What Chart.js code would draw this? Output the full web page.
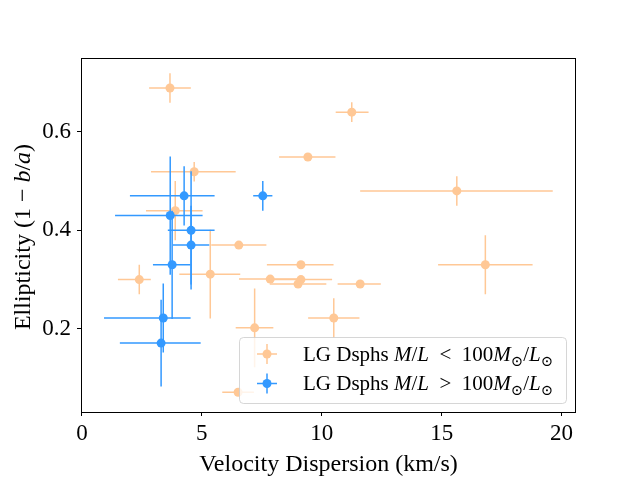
<!DOCTYPE html>
<html>
<head>
<meta charset="utf-8">
<script src="https://cdn.jsdelivr.net/npm/chart.js@4"></script>
<style>
  body { margin: 0; background: #fff; }
  canvas { display: block; }
</style>
</head>
<body>
<canvas id="chart" width="640" height="480"></canvas>
<script>
// data: velocity dispersion (km/s), ellipticity, errors (lower / upper)
const lowX      = [3.67, 11.25, 9.42, 15.63, 4.68, 3.89, 6.54, 5.35, 2.39, 9.13, 7.85, 9.13, 9.01, 11.6, 10.5, 7.2, 6.51, 16.82];
const lowY      = [0.689, 0.64, 0.549, 0.48, 0.519, 0.44, 0.37, 0.311, 0.30, 0.33, 0.301, 0.30, 0.291, 0.291, 0.222, 0.202, 0.071, 0.33];
const lowXErrLo = [0.87, 0.67, 1.2, 4.03, 1.8, 1.22, 1.15, 1.29, 0.89, 1.42, 1.3, 1.3, 1.18, 0.94, 1.07, 0.79, 0.66, 1.97];
const lowXErrHi = [0.87, 0.7, 1.15, 4.0, 1.73, 1.14, 1.15, 1.25, 0.48, 1.36, 1.3, 1.3, 1.18, 0.86, 1.07, 0.78, 0.66, 1.97];
const lowYErr   = [0.03, 0.02, 0.005, 0.03, 0.02, 0.06, 0.005, 0.09, 0.03, 0.005, 0.005, 0.005, 0.005, 0.005, 0.04, 0.08, 0.005, 0.06];

const highX      = [4.26, 7.54, 3.68, 4.55, 4.55, 3.76, 3.39, 3.30];
const highY      = [0.47, 0.47, 0.43, 0.40, 0.37, 0.33, 0.222, 0.171];
const highXErrLo = [2.26, 0.4, 2.3, 0.97, 0.76, 0.8, 2.47, 1.72];
const highXErrHi = [1.27, 0.4, 1.35, 0.98, 0.76, 0.77, 1.14, 1.65];
const highYErr   = [0.06, 0.03, 0.12, 0.12, 0.08, 0.11, 0.07, 0.088];

const xTicks = [0, 5, 10, 15, 20];
const yTicks = [0.2, 0.4, 0.6];

const ORANGE = '#ffc896';
const BLUE = '#3399ff';
const SERIF = '"Liberation Serif", "DejaVu Serif", serif';

const toPoints = (xs, ys, lo, hi, ye) => xs.map((x, i) => ({ x, y: ys[i], xLo: lo[i], xHi: hi[i], yErr: ye[i] }));

// draws pieces of [text, italic, subscript] one after the other
function drawPieces(ctx, pieces, x, y, size) {
  pieces.forEach(([txt, italic, sub]) => {
    const s = sub ? size * 0.7 : size;
    ctx.font = (italic ? 'italic ' : '') + s + 'px ' + SERIF;
    ctx.fillText(txt, x, sub ? y + size * 0.25 : y);
    x += ctx.measureText(txt).width;
  });
  return x;
}
function piecesWidth(ctx, pieces, size) {
  let w = 0;
  pieces.forEach(([txt, italic, sub]) => {
    const s = sub ? size * 0.7 : size;
    ctx.font = (italic ? 'italic ' : '') + s + 'px ' + SERIF;
    w += ctx.measureText(txt).width;
  });
  return w;
}

const errorBars = {
  id: 'errorBars',
  beforeDatasetDraw(chart, args) {
    const { ctx, scales: { x, y } } = chart;
    const ds = chart.data.datasets[args.index];
    ctx.save();
    ctx.strokeStyle = ds.backgroundColor;
    ctx.lineWidth = 1.5;
    ds.data.forEach(p => {
      const px = x.getPixelForValue(p.x), py = y.getPixelForValue(p.y);
      ctx.beginPath();
      ctx.moveTo(x.getPixelForValue(p.x - p.xLo), py);
      ctx.lineTo(x.getPixelForValue(p.x + p.xHi), py);
      ctx.moveTo(px, y.getPixelForValue(p.y - p.yErr));
      ctx.lineTo(px, y.getPixelForValue(p.y + p.yErr));
      ctx.stroke();
    });
    ctx.restore();
  }
};

const legendEntries = [
  [ORANGE, [['LG Dsphs ', false], ['M', true], ['/', false], ['L', true], ['  <  100', false], ['M', true], ['\u2299', false, true], ['/', false], ['L', true], ['\u2299', false, true]]],
  [BLUE,   [['LG Dsphs ', false], ['M', true], ['/', false], ['L', true], ['  >  100', false], ['M', true], ['\u2299', false, true], ['/', false], ['L', true], ['\u2299', false, true]]]
];

const decorations = {
  id: 'decorations',
  afterDraw(chart) {
    const { ctx, chartArea: a } = chart;
    ctx.save();
    // frame
    ctx.strokeStyle = '#000';
    ctx.lineWidth = 1;
    ctx.strokeRect(a.left + 0.5, a.top + 0.5, a.right - a.left - 1, a.bottom - a.top);

    ctx.fillStyle = '#000';
    ctx.textBaseline = 'alphabetic';
    // x title
    const xt = [['Velocity Dispersion (km/s)', false]];
    const xw = piecesWidth(ctx, xt, 24);
    drawPieces(ctx, xt, (a.left + a.right) / 2 - xw / 2, 471, 24);
    // y title
    const yt = [['Ellipticity (1 \u2212 ', false], ['b', true], ['/', false], ['a', true], [')', false]];
    const yw = piecesWidth(ctx, yt, 24);
    ctx.save();
    ctx.translate(30, (a.top + a.bottom) / 2 + 2);
    ctx.rotate(-Math.PI / 2);
    drawPieces(ctx, yt, -yw / 2, 0, 24);
    ctx.restore();

    // legend
    const lx = 239, ly = 337, lw = 327, lh = 66;
    ctx.beginPath();
    ctx.roundRect(lx + 0.5, ly + 0.5, lw, lh, 4);
    ctx.fillStyle = 'rgba(255,255,255,0.8)';
    ctx.fill();
    ctx.strokeStyle = 'rgba(204,204,204,0.8)';
    ctx.stroke();
    legendEntries.forEach(([color, pieces], i) => {
      const cy = 354 + i * 29.5, cx = 267;
      ctx.strokeStyle = color;
      ctx.fillStyle = color;
      ctx.lineWidth = 1.5;
      ctx.beginPath();
      ctx.moveTo(cx - 10, cy); ctx.lineTo(cx + 10, cy);
      ctx.moveTo(cx, cy - 10); ctx.lineTo(cx, cy + 10);
      ctx.stroke();
      ctx.beginPath();
      ctx.arc(cx, cy, 4.5, 0, Math.PI * 2);
      ctx.fill();
      ctx.fillStyle = '#000';
      drawPieces(ctx, pieces, 303, cy + 6.5, 21);
    });
    ctx.restore();
  }
};

new Chart(document.getElementById('chart'), {
  type: 'scatter',
  data: {
    datasets: [
      { label: 'low', data: toPoints(lowX, lowY, lowXErrLo, lowXErrHi, lowYErr), backgroundColor: ORANGE, borderColor: ORANGE, pointRadius: 4.5, borderWidth: 0, order: 2 },
      { label: 'high', data: toPoints(highX, highY, highXErrLo, highXErrHi, highYErr), backgroundColor: BLUE, borderColor: BLUE, pointRadius: 4.5, borderWidth: 0, order: 1 }
    ]
  },
  options: {
    responsive: false,
    devicePixelRatio: 1,
    animation: false,
    layout: { padding: { left: 0, top: 58, right: 64, bottom: 0 } },
    plugins: { legend: { display: false }, tooltip: { enabled: false } },
    scales: {
      x: {
        min: -0.04, max: 20.6,
        afterBuildTicks: s => { s.ticks = xTicks.map(v => ({ value: v })); },
        afterFit: s => { s.height = 68; },
        grid: { drawOnChartArea: false, drawTicks: true, tickLength: 4, color: '#000' },
        border: { display: false },
        ticks: { color: '#000', font: { family: SERIF, size: 23 }, padding: 4, maxRotation: 0 }
      },
      y: {
        min: 0.031, max: 0.75,
        afterBuildTicks: s => { s.ticks = yTicks.map(v => ({ value: v })); },
        afterFit: s => { s.width = 81; },
        grid: { drawOnChartArea: false, drawTicks: true, tickLength: 4, color: '#000' },
        border: { display: false },
        ticks: { color: '#000', font: { family: SERIF, size: 23 }, padding: 6, callback: v => v.toFixed(1) }
      }
    }
  },
  plugins: [errorBars, decorations]
});
</script>
</body>
</html>
